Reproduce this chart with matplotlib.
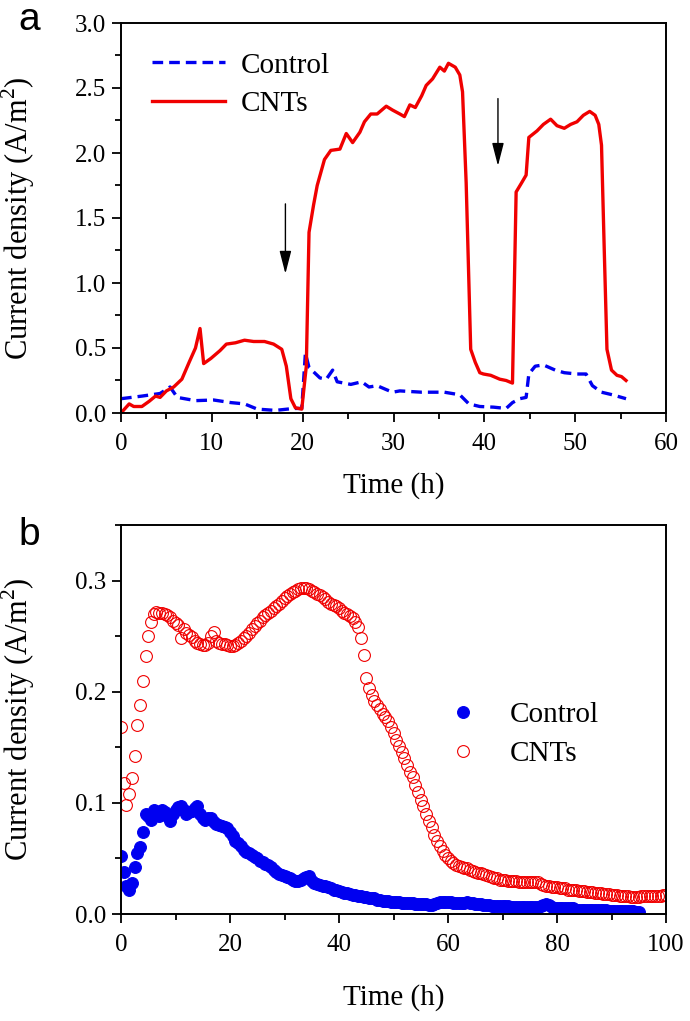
import numpy as np
import matplotlib
matplotlib.use("Agg")
import matplotlib.pyplot as plt
from matplotlib.ticker import MultipleLocator

plt.rcParams["font.family"] = ["Liberation Serif", "DejaVu Serif"]
plt.rcParams["mathtext.fontset"] = "custom"
plt.rcParams["mathtext.rm"] = "Liberation Serif"

# ---- panel a: current density during the fed-batch cycles (line plot)
cnt_a_t = [0.0, 0.9, 1.4, 2.3, 3.1, 3.8, 4.3, 5.0, 5.8, 6.7, 7.5, 8.2, 8.7, 9.1,
           9.9, 10.9, 11.6, 12.6, 13.6, 14.6, 15.8, 16.8, 17.7, 18.2, 18.7, 19.2,
           19.9, 20.4, 20.7, 21.2, 21.6, 22.4, 23.1, 24.1, 24.8, 25.5, 26.3, 26.8,
           27.5, 28.2, 29.2, 29.9, 30.7, 31.2, 31.8, 32.4, 33.1, 33.6, 34.3, 35.1,
           35.6, 36.05, 36.8, 37.3, 37.6, 38.0, 38.5, 39.0, 39.5, 39.9, 40.7, 41.7,
           42.4, 43.1, 43.5, 44.1, 44.6, 44.9, 45.8, 46.5, 47.3, 48.0, 48.8, 49.5,
           50.2, 50.9, 51.6, 52.2, 52.6, 52.9, 53.2, 53.5, 54.0, 54.6, 55.1, 55.6]
cnt_a_j = [0.00, 0.07, 0.05, 0.05, 0.09, 0.13, 0.12, 0.17, 0.20, 0.26, 0.39, 0.50,
           0.65, 0.38, 0.42, 0.48, 0.53, 0.54, 0.56, 0.55, 0.55, 0.53, 0.49, 0.36,
           0.11, 0.04, 0.03, 0.36, 1.39, 1.60, 1.75, 1.95, 2.02, 2.03, 2.15, 2.08,
           2.16, 2.24, 2.30, 2.30, 2.36, 2.33, 2.30, 2.28, 2.37, 2.35, 2.44, 2.52,
           2.57, 2.66, 2.63, 2.69, 2.66, 2.60, 2.47, 1.77, 0.49, 0.39, 0.31, 0.30,
           0.29, 0.26, 0.25, 0.23, 1.70, 1.77, 1.83, 2.12, 2.17, 2.22, 2.26, 2.21,
           2.19, 2.22, 2.24, 2.29, 2.32, 2.29, 2.22, 2.06, 1.26, 0.49, 0.33, 0.29,
           0.28, 0.25]

ctrl_a_t = [0.0, 2.3, 4.3, 5.4, 6.2, 8.2, 10.2, 12.1, 13.6, 15.0, 17.0, 19.0, 19.9,
            20.3, 20.7, 21.9, 22.6, 23.3, 23.8, 25.3, 26.5, 27.3, 28.2, 29.2, 29.9,
            30.7, 33.1, 35.6, 37.3, 38.3, 39.5, 41.0, 42.4, 43.1, 43.9, 44.6, 44.9,
            45.6, 46.5, 47.8, 48.8, 50.2, 51.2, 51.9, 52.9, 54.1, 55.6]
ctrl_a_j = [0.11, 0.13, 0.15, 0.20, 0.12, 0.095, 0.10, 0.08, 0.07, 0.03, 0.02,
            0.035, 0.035, 0.46, 0.35, 0.27, 0.26, 0.33, 0.24, 0.22, 0.24, 0.20,
            0.21, 0.18, 0.16, 0.17, 0.16, 0.16, 0.14, 0.07, 0.05, 0.045, 0.035,
            0.08, 0.11, 0.12, 0.30, 0.36, 0.37, 0.33, 0.31, 0.30, 0.30, 0.21, 0.16,
            0.14, 0.11]

arrow_t = [18.1, 41.5]
arrow_top = [1.63, 2.44]
arrow_tip = [1.05, 1.88]

# ---- panel b: single-cycle scan, sampled every 0.5 h
cnt_b_j = [
    0.168, 0.118, 0.098, 0.108, 0.122, 0.142, 0.170, 0.188, 0.210, 0.232,  # 0-4.5
    0.250, 0.263, 0.270, 0.272, 0.271, 0.271, 0.270, 0.269, 0.267, 0.264,  # 5-9.5
    0.262, 0.260, 0.248, 0.256, 0.253, 0.251, 0.249, 0.246, 0.244, 0.243,  # 10-14.5
    0.242, 0.242, 0.244, 0.250, 0.254, 0.246, 0.244, 0.243, 0.243, 0.242,  # 15-19.5
    0.241, 0.241, 0.242, 0.244, 0.246, 0.248, 0.250, 0.253, 0.256, 0.259,  # 20-24.5
    0.262, 0.264, 0.267, 0.269, 0.271, 0.273, 0.275, 0.277, 0.279, 0.282,  # 25-29.5
    0.284, 0.286, 0.288, 0.290, 0.291, 0.292, 0.293, 0.293, 0.293, 0.292,  # 30-34.5
    0.291, 0.290, 0.288, 0.287, 0.285, 0.283, 0.281, 0.279, 0.278, 0.277,  # 35-39.5
    0.275, 0.273, 0.271, 0.270, 0.268, 0.266, 0.263, 0.258, 0.248, 0.233,  # 40-44.5
    0.212, 0.203, 0.197, 0.192, 0.188, 0.184, 0.180, 0.177, 0.174, 0.168,  # 45-49.5
    0.163, 0.157, 0.151, 0.146, 0.140, 0.134, 0.128, 0.123, 0.116, 0.110,  # 50-54.5
    0.103, 0.097, 0.090, 0.084, 0.078, 0.071, 0.066, 0.061, 0.057, 0.053,  # 55-59.5
    0.050, 0.048, 0.046, 0.044, 0.043, 0.042, 0.041, 0.041, 0.040, 0.039,  # 60-64.5
    0.038, 0.037, 0.037, 0.036, 0.035, 0.034, 0.033, 0.032, 0.032, 0.031,  # 65-69.5
    0.031, 0.031, 0.030, 0.030, 0.030, 0.030, 0.029, 0.029, 0.029, 0.029,  # 70-74.5
    0.029, 0.029, 0.029, 0.029, 0.027, 0.026, 0.025, 0.025, 0.024, 0.024,  # 75-79.5
    0.024, 0.023, 0.023, 0.023, 0.022, 0.022, 0.022, 0.022, 0.021, 0.021,  # 80-84.5
    0.021, 0.020, 0.020, 0.020, 0.019, 0.019, 0.019, 0.018, 0.018, 0.018,  # 85-89.5
    0.017, 0.017, 0.017, 0.016, 0.016, 0.016, 0.016, 0.015, 0.015, 0.015,  # 90-94.5
    0.015, 0.016, 0.016, 0.016, 0.016, 0.016, 0.016, 0.016, 0.016, 0.017,  # 95-99.5
    0.017]                                                                 # 100
ctrl_b_j = [
    0.052, 0.038, 0.025, 0.022, 0.028, 0.042, 0.055, 0.060, 0.074, 0.090,  # 0-4.5
    0.088, 0.085, 0.094, 0.092, 0.088, 0.094, 0.092, 0.088, 0.084, 0.090,  # 5-9.5
    0.094, 0.096, 0.097, 0.094, 0.090, 0.092, 0.093, 0.095, 0.097, 0.090,  # 10-14.5
    0.086, 0.085, 0.086, 0.086, 0.083, 0.081, 0.080, 0.079, 0.078, 0.077,  # 15-19.5
    0.074, 0.070, 0.066, 0.064, 0.061, 0.058, 0.056, 0.055, 0.053, 0.051,  # 20-24.5
    0.050, 0.048, 0.047, 0.045, 0.044, 0.042, 0.040, 0.038, 0.036, 0.035,  # 25-29.5
    0.034, 0.033, 0.032, 0.031, 0.030, 0.030, 0.031, 0.032, 0.033, 0.034,  # 30-34.5
    0.030, 0.028, 0.027, 0.026, 0.025, 0.025, 0.024, 0.023, 0.022, 0.022,  # 35-39.5
    0.021, 0.020, 0.019, 0.019, 0.018, 0.017, 0.017, 0.016, 0.016, 0.015,  # 40-44.5
    0.015, 0.014, 0.014, 0.014, 0.013, 0.013, 0.012, 0.012, 0.012, 0.011,  # 45-49.5
    0.011, 0.011, 0.011, 0.010, 0.010, 0.010, 0.010, 0.010, 0.009, 0.009,  # 50-54.5
    0.009, 0.009, 0.009, 0.008, 0.008, 0.009, 0.010, 0.011, 0.011, 0.011,  # 55-59.5
    0.011, 0.011, 0.010, 0.010, 0.010, 0.010, 0.010, 0.011, 0.010, 0.010,  # 60-64.5
    0.009, 0.009, 0.009, 0.008, 0.008, 0.008, 0.007, 0.007, 0.007, 0.007,  # 65-69.5
    0.007, 0.007, 0.007, 0.006, 0.006, 0.006, 0.006, 0.006, 0.006, 0.006,  # 70-74.5
    0.006, 0.006, 0.006, 0.006, 0.007, 0.008, 0.009, 0.008, 0.006, 0.005,  # 75-79.5
    0.005, 0.005, 0.005, 0.005, 0.005, 0.005, 0.005, 0.004, 0.004, 0.004,  # 80-84.5
    0.004, 0.004, 0.004, 0.004, 0.004, 0.004, 0.004, 0.004, 0.004, 0.003,  # 85-89.5
    0.003, 0.003, 0.003, 0.003, 0.003, 0.003, 0.003, 0.003, 0.003, 0.002,  # 90-94.5
    0.002]                                                                 # 95
cnt_b_t = np.arange(len(cnt_b_j)) * 0.5
ctrl_b_t = np.arange(len(ctrl_b_j)) * 0.5

BLUE, RED = "#0000F0", "#F00000"
TICK_FS, LABEL_FS, YLABEL_FS = 18, 21, 22
YLABEL = r"Current density (A/m$^2$)"

fig = plt.figure(figsize=(6.9, 10.21), dpi=100)
ax1 = fig.add_axes([121 / 690, 1 - 413 / 1021, 545 / 690, 390 / 1021])
ax2 = fig.add_axes([121 / 690, 1 - 914 / 1021, 545 / 690, 389 / 1021])


def style(ax, xpad):
    for s in ax.spines.values():
        s.set_linewidth(1.4)
    ax.tick_params(which="both", direction="out", width=1.3,
                   labelsize=TICK_FS, top=False, right=False)
    ax.tick_params(which="major", length=6.5)
    ax.tick_params(which="minor", length=4.5)
    ax.tick_params(axis="x", which="major", pad=8)
    ax.tick_params(axis="y", which="major", pad=4)
    ax.set_xlabel("Time (h)", fontsize=LABEL_FS, labelpad=xpad)
    ax.set_ylabel(YLABEL, fontsize=YLABEL_FS)
    ax.yaxis.set_label_coords(-0.155, 0.5)


# panel a
ax1.plot(ctrl_a_t, ctrl_a_j, color=BLUE, lw=2.4, ls=(0, (3.2, 1.8)), label="Control")
ax1.plot(cnt_a_t, cnt_a_j, color=RED, lw=2.4, label="CNTs")
for t, y0, y1 in zip(arrow_t, arrow_top, arrow_tip):
    ax1.annotate("", xy=(t, y1), xytext=(t, y0),
                 arrowprops=dict(arrowstyle="-|>,head_length=0.7,head_width=0.18",
                                 color="black", lw=1.0, mutation_scale=20))
ax1.set_xlim(0, 60)
ax1.set_ylim(0, 3.0)
ax1.xaxis.set_major_locator(MultipleLocator(10))
ax1.xaxis.set_minor_locator(MultipleLocator(5))
ax1.yaxis.set_major_locator(MultipleLocator(0.5))
ax1.yaxis.set_minor_locator(MultipleLocator(0.25))
ax1.yaxis.set_major_formatter(lambda v, p: f"{v:.1f}")
style(ax1, 12)
ax1.legend(loc="upper left", bbox_to_anchor=(0.035, 0.955), frameon=False,
           fontsize=LABEL_FS, handlelength=2.5, handletextpad=0.55,
           labelspacing=0.42, borderaxespad=0)

# panel b
ax2.plot(ctrl_b_t, ctrl_b_j, ls="none", marker="o", ms=8.5, mfc=BLUE, mec=BLUE,
         mew=0.8, label="Control")
ax2.plot(cnt_b_t, cnt_b_j, ls="none", marker="o", ms=8.5, mfc="none", mec=RED,
         mew=0.8, label="CNTs")
ax2.set_xlim(0, 100)
ax2.set_ylim(0, 0.35)
ax2.xaxis.set_major_locator(MultipleLocator(20))
ax2.xaxis.set_minor_locator(MultipleLocator(10))
ax2.yaxis.set_major_locator(MultipleLocator(0.1))
ax2.yaxis.set_minor_locator(MultipleLocator(0.05))
ax2.yaxis.set_major_formatter(lambda v, p: f"{v:.1f}")
style(ax2, 20)
ax2.legend(loc="upper left", bbox_to_anchor=(0.58, 0.575), frameon=False,
           fontsize=LABEL_FS, handlelength=1.0, handletextpad=1.1,
           labelspacing=0.42, borderaxespad=0)

fig.text(18 / 690, 1 - 30 / 1021, "a", fontsize=28, family="Liberation Sans",
         va="baseline")
fig.text(18 / 690, 1 - 545 / 1021, "b", fontsize=28, family="Liberation Sans",
         va="baseline")

fig.savefig("out.png", dpi=100)
